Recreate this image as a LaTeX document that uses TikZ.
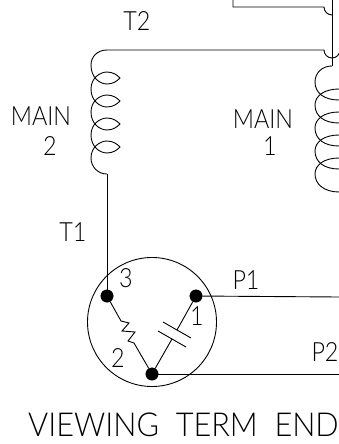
\documentclass[tikz,border=0pt]{standalone}
\usepackage{fontspec}
\setmainfont{Lato}[UprightFont=* Light]
\usetikzlibrary{positioning}
\begin{document}
\begin{tikzpicture}[
	  x=1pt,y=-1pt,
	  %style for wires
	  wre/.style={line width=0.9pt, black},
	  %style for circuit text
	  lbl/.style={inner sep=0pt, xscale=0.88, transform shape, font=\fontsize{26.5}{26.5}\selectfont, black},
	  %title text
	  ttl/.style={inner sep=0pt, xscale=0.93, transform shape, font=\fontsize{33}{33}\selectfont, black},
	  %terminals
	  term/.style={circle, fill=black, draw=black, inner sep=0pt, minimum size=12.5pt}]

      \path[use as bounding box] (0,0) rectangle (339,444);

      %nodes
      \node[term](term3) at (107,296){};
      \node[term](term1) at (196,296){};
      \node[term](term2) at (152,374){};
      \node[circle, draw=black, line width=0.9pt, inner sep=0pt, minimum size=129pt](body) at (152,322){};

      \node[lbl](t2lab) at (137,21){T2};
      \node[lbl](main2a) at (41,116){MAIN};
      \node[lbl](main2b) at (50,146){2};
      \node[lbl](t1lab) at (73,232){T1};
      \node[lbl](main1a) at (263,119){MAIN};
      \node[lbl](main1b) at (270,146){1};
      \node[lbl](num3) at (126,278){3};
      \node[lbl](num1) at (197,316){1};
      \node[lbl](num2) at (118,358){2};
      \node[lbl](p1lab) at (246,280){P1};
      \node[lbl](p2lab) at (325,352){P2};
      \node[ttl](title) at (183.5,425){VIEWING\ \ TERM\ \ END};

      \coordinate(m2top) at (107,50);
      \coordinate(m2bot) at (107,174);
      \coordinate(m1top) at (332,66);
      \coordinate(topin) at (332,0);
      \coordinate(p1end) at (339,297);
      \coordinate(p2end) at (339,374);
      \coordinate(res1) at (121,321);
      \coordinate(res2) at (134,343);
      \coordinate(cap1) at (177,330);
      \coordinate(cap2) at (172,339);
      \coordinate(capa) at (163,322);
      \coordinate(capb) at (191,338);
      \coordinate(capc) at (158,331);
      \coordinate(capd) at (186,347);

      %edges
      \draw[wre](topin) -- (m1top);
      \draw[wre](233,0) -- (233,7) -- (324,7) arc[start angle=180, end angle=90, radius=8];
      \draw[wre](m2top) -- (324,50) arc[start angle=180, end angle=0, radius=8];
      \draw[wre](m2bot) -- (term3);
      \draw[wre](term1) -- (p1end);
      \draw[wre](term2) -- (p2end);
      \draw[wre](term3) -- (res1) -- (129,323) -- (122,331) -- (135,332) -- (128,341) -- (res2) -- (term2);
      \draw[wre](term1) -- (cap1);
      \draw[wre](cap2) -- (term2);
      \draw[wre](capa) -- (capb);
      \draw[wre](capc) -- (capd);

      %coil main 2
      \draw[wre](m2top) .. controls (97,50) and (91,57) .. (91,65)
        .. controls (91,78) and (100,84) .. (107,84) .. controls (113,84) and (117,81) .. (120,78)
        .. controls (117,75) and (113,72) .. (107,72) .. controls (100,72) and (91,78) .. (91,89)
        .. controls (91,101) and (100,107) .. (107,107) .. controls (113,107) and (117,104) .. (120,101)
        .. controls (117,98) and (113,95) .. (107,95) .. controls (100,95) and (91,101) .. (91,112)
        .. controls (91,124) and (100,130) .. (107,130) .. controls (113,130) and (117,127) .. (120,124)
        .. controls (117,121) and (113,118) .. (107,118) .. controls (100,118) and (91,124) .. (91,135)
        .. controls (91,147) and (100,153) .. (107,153) .. controls (113,153) and (117,150) .. (120,147)
        .. controls (117,144) and (113,141) .. (107,141) .. controls (100,141) and (91,147) .. (91,158)
        .. controls (91,167) and (98,174) .. (m2bot);
      %coil main 1
      \draw[wre](m1top) .. controls (322,66) and (315,73) .. (315,82)
        .. controls (315,93) and (324,100) .. (339,100);
      \draw[wre](339,89) .. controls (324,89) and (315,96) .. (315,105)
        .. controls (315,116) and (324,123) .. (339,123);
      \draw[wre](339,112) .. controls (324,112) and (315,119) .. (315,128)
        .. controls (315,139) and (324,146) .. (339,146);
      \draw[wre](339,135) .. controls (324,135) and (315,142) .. (315,151)
        .. controls (315,162) and (324,169) .. (339,169);
      \draw[wre](339,158) .. controls (324,158) and (315,165) .. (315,174)
        .. controls (315,184) and (324,192) .. (339,192);
\end{tikzpicture}
\end{document}
